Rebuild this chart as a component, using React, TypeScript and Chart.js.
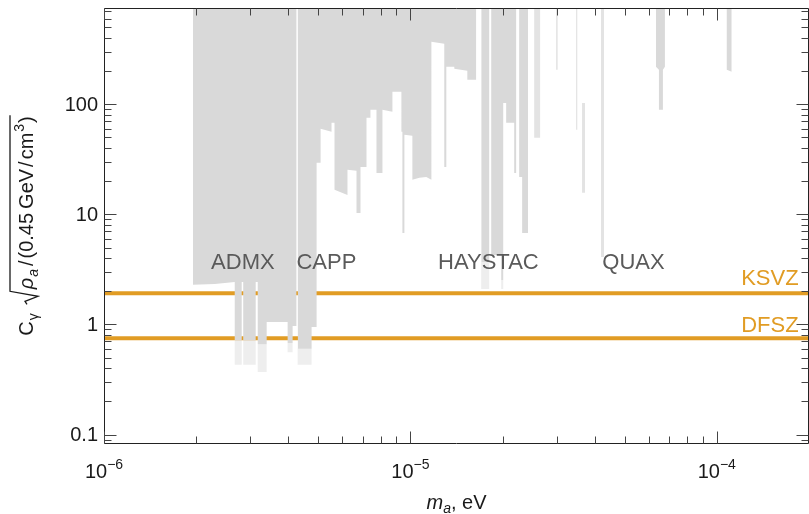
import React, { useEffect, useRef } from "react";
import { Chart, registerables } from "chart.js";

Chart.register(...registerables);

const FONT = '"Liberation Sans", Arimo, Arial, Helvetica, sans-serif';
const GRAY = "#d9d9d9";
const GRAY_LIGHT = "#e3e3e3";
const GRAY_FADE = "rgba(200,200,200,0.3)";
const ORANGE = "#E19C24";
const LABEL = "#5a5a5a";
const INK = "#1a1a1a";

// value above the plotted range, used for regions that reach the top of the plot
const TOP = 1000;

// axis ranges and ticks
const xMin = 1e-6;
const xMax = 2e-4;
const yMin = 0.082;
const yMax = 750;
const xMajorTicks = [1e-6, 1e-5, 1e-4];
const xMajorExponents = ["\u22126", "\u22125", "\u22124"];
const yMajorTicks = [0.1, 1, 10, 100];
const yMajorLabels = ["0.1", "1", "10", "100"];

// benchmark models
const modelNames = ["KSVZ", "DFSZ"];
const modelLevels = [1.92, 0.75];
const modelLabelLevels = [2.29, 0.855];
const modelLabelMass = 1.85e-4;

// experiment labels
const expNames = ["ADMX", "CAPP", "HAYSTAC", "QUAX"];
const expLabelMass = [2.84e-6, 5.32e-6, 1.797e-5, 5.35e-5];
const expLabelLevel = 3.2;

// exclusion regions: lower edge of the excluded area (mass in eV, C_gamma)
const admxMass = [1.95e-6, 2.3e-6, 2.671e-6, 2.671e-6, 2.815e-6, 2.815e-6, 2.847e-6, 2.847e-6, 3.127e-6, 3.127e-6, 3.175e-6, 3.175e-6, 3.396e-6, 3.396e-6, 3.975e-6, 3.975e-6, 4.127e-6, 4.127e-6, 4.253e-6, 4.253e-6];
const admxLimit = [2.29, 2.33, 2.43, 0.72, 0.72, 2.43, 2.43, 0.72, 0.72, 2.43, 2.43, 0.66, 0.66, 1.05, 1.05, 0.68, 0.68, 0.97, 0.97, TOP];

const cappMass = [4.285e-6, 4.285e-6, 4.76e-6, 4.76e-6, 4.942e-6, 4.942e-6, 5.093e-6, 5.093e-6, 5.529e-6, 5.529e-6, 5.654e-6, 5.654e-6, 6.233e-6, 6.233e-6, 6.67e-6, 6.67e-6, 6.873e-6, 6.873e-6, 7.19e-6, 7.19e-6, 7.408e-6, 7.408e-6, 7.75e-6, 7.75e-6, 8.107e-6, 8.107e-6, 8.737e-6, 8.737e-6, 9.348e-6, 9.348e-6, 9.417e-6, 9.417e-6, 9.561e-6, 9.561e-6, 1.015e-5, 1.015e-5, 1.07e-5, 1.127e-5, 1.171e-5, 1.171e-5, 1.29e-5, 1.29e-5, 1.31e-5, 1.31e-5, 1.391e-5, 1.391e-5, 1.534e-5, 1.534e-5, 1.641e-5, 1.641e-5];
const cappLimit = [TOP, 0.6, 0.6, 0.95, 0.95, 29.4, 29.4, 59.9, 56.2, 67.9, 67.9, 16.7, 15.0, 25.4, 24.9, 10.3, 10.3, 27.0, 27.0, 75.4, 75.4, 89.1, 89.1, 23.8, 23.8, 89.1, 85.5, 129.9, 129.9, 56.2, 56.2, 6.79, 6.79, 52.8, 51.7, 20.6, 21.5, 21.9, 20.6, 370, 355, 27.0, 27.0, 219, 219, 210, 202, 167, 167, TOP];

const haystacMass = [1.703e-5, 1.703e-5, 1.808e-5, 1.808e-5, 1.836e-5, 1.836e-5, 1.979e-5, 1.979e-5, 2.009e-5, 2.009e-5, 2.054e-5, 2.054e-5, 2.182e-5, 2.182e-5, 2.214e-5, 2.214e-5, 2.265e-5, 2.265e-5, 2.316e-5, 2.316e-5, 2.423e-5, 2.423e-5];
const haystacLimit = [TOP, 3.7, 3.7, TOP, TOP, 4.28, 4.28, 2.54, 2.54, 103, 103, 67.9, 67.9, 23.8, 23.8, TOP, TOP, 21.9, 21.9, 6.79, 6.79, TOP];

const stripMass = [2.534e-5, 2.534e-5, 2.651e-5, 2.651e-5, 2.99e-5, 2.99e-5, 3.024e-5, 3.024e-5, 3.474e-5, 3.474e-5, 3.512e-5, 3.512e-5];
const stripLimit = [TOP, 49.6, 49.6, TOP, TOP, 206, 206, TOP, TOP, 58.6, 58.6, TOP];

const floatMass = [3.633e-5, 3.715e-5, 3.715e-5, 3.633e-5];
const floatLimit = [103, 103, 15.7, 15.7];

const quaxMass = [4.19e-5, 4.19e-5, 4.285e-5, 4.285e-5];
const quaxLimit = [TOP, 4.11, 4.11, TOP];

const highMass = [6.33e-5, 6.33e-5, 6.475e-5, 6.475e-5, 6.672e-5, 6.672e-5, 6.772e-5, 6.772e-5, 1.078e-4, 1.078e-4, 1.119e-4, 1.119e-4];
const highLimit = [TOP, 219, 206, 89.1, 89.1, 206, 219, TOP, TOP, 206, 198, TOP];

// faint tails below the solid regions
const tailMassLo = [2.671e-6, 2.847e-6, 3.175e-6, 3.975e-6, 4.285e-6, 1.703e-5, 1.979e-5];
const tailMassHi = [2.815e-6, 3.127e-6, 3.396e-6, 4.127e-6, 4.76e-6, 1.808e-5, 2.009e-5];
const tailUpper = [0.72, 0.72, 0.66, 0.68, 0.6, 3.7, 2.54];
const tailLower = [0.43, 0.43, 0.37, 0.56, 0.43, 2.1, 2.1];

function pts(xs: number[], ys: number[]) {
  return xs.map((x, i) => ({ x, y: ys[i] }));
}

function region(xs: number[], ys: number[], color: string, fill: any = "end") {
  return {
    data: pts(xs, ys),
    borderWidth: 0,
    borderColor: "rgba(0,0,0,0)",
    backgroundColor: color,
    fill,
    pointRadius: 0,
    tension: 0,
    order: 1,
  };
}

function drawYTitle(ctx: CanvasRenderingContext2D, baseX: number, centerY: number) {
  const fs = 20;
  const ss = 14;
  const big = `${fs}px ${FONT}`;
  const bigI = `italic ${fs}px ${FONT}`;
  const small = `${ss}px ${FONT}`;
  const smallI = `italic ${ss}px ${FONT}`;
  type Item = { t: string; f: string; dv: number; pre: number };
  const head: Item[] = [
    { t: "C", f: big, dv: 0, pre: 0 },
    { t: "\u03b3", f: small, dv: 5, pre: 1 },
  ];
  const radGap = 9;
  const radW = 14;
  const body: Item[] = [
    { t: "\u03c1", f: bigI, dv: 0, pre: 1 },
    { t: "a", f: smallI, dv: 5, pre: 1 },
    { t: "/", f: big, dv: 0, pre: 3 },
    { t: "(0.45", f: big, dv: 0, pre: 2 },
    { t: "GeV", f: big, dv: 0, pre: 4 },
    { t: "/", f: big, dv: 0, pre: 2 },
    { t: "cm", f: big, dv: 0, pre: 2 },
    { t: "3", f: small, dv: -9, pre: 1 },
    { t: ")", f: big, dv: 0, pre: 1 },
  ];
  const w = (it: Item) => {
    ctx.font = it.f;
    return ctx.measureText(it.t).width + it.pre;
  };
  let total = radGap + radW;
  head.forEach((it) => (total += w(it)));
  body.forEach((it) => (total += w(it)));
  ctx.save();
  ctx.translate(baseX, centerY);
  ctx.rotate(-Math.PI / 2);
  ctx.fillStyle = INK;
  ctx.strokeStyle = INK;
  ctx.textAlign = "left";
  ctx.textBaseline = "alphabetic";
  let u = -total / 2;
  head.forEach((it) => {
    ctx.font = it.f;
    u += it.pre;
    ctx.fillText(it.t, u, it.dv);
    u += ctx.measureText(it.t).width;
  });
  u += radGap;
  const r0 = u;
  u += radW;
  body.forEach((it) => {
    ctx.font = it.f;
    u += it.pre;
    ctx.fillText(it.t, u, it.dv);
    u += ctx.measureText(it.t).width;
  });
  const over = -23;
  ctx.lineWidth = 1.3;
  ctx.beginPath();
  ctx.moveTo(r0, -6);
  ctx.lineTo(r0 + 3, -8);
  ctx.lineTo(r0 + 8, 5);
  ctx.lineTo(r0 + 13, over);
  ctx.lineTo(u + 1, over);
  ctx.stroke();
  ctx.restore();
}

const decor = {
  id: "decor",
  afterDatasetsDraw(chart: any) {
    const { ctx, chartArea: a, scales } = chart;
    const sx = scales.x;
    const sy = scales.y;
    ctx.save();

    // experiment labels
    ctx.font = `22px ${FONT}`;
    ctx.textBaseline = "alphabetic";
    ctx.fillStyle = LABEL;
    ctx.textAlign = "center";
    expNames.forEach((n, i) => {
      ctx.fillText(n, sx.getPixelForValue(expLabelMass[i]), sy.getPixelForValue(expLabelLevel));
    });
    // model labels
    ctx.fillStyle = ORANGE;
    ctx.textAlign = "right";
    modelNames.forEach((n, i) => {
      ctx.fillText(n, sx.getPixelForValue(modelLabelMass), sy.getPixelForValue(modelLabelLevels[i]));
    });

    // frame
    const L = Math.round(a.left) + 0.5;
    const R = Math.round(a.right) - 0.5;
    const T = Math.round(a.top) + 0.5;
    const B = Math.round(a.bottom) - 0.5;
    ctx.strokeStyle = "#222";
    ctx.lineWidth = 1;
    ctx.beginPath();
    ctx.moveTo(L, T);
    ctx.lineTo(R, T);
    ctx.lineTo(R, B);
    ctx.lineTo(L, B);
    ctx.closePath();
    ctx.stroke();

    // ticks
    const major = 12;
    const minor = 7;
    ctx.strokeStyle = "#444";
    ctx.beginPath();
    for (let d = -6; d <= -4; d++) {
      for (let k = 1; k <= 9; k++) {
        const v = k * Math.pow(10, d);
        if (v < xMin * 0.999 || v > xMax * 1.001) continue;
        const px = Math.round(sx.getPixelForValue(v)) + 0.5;
        const len = k === 1 ? major : minor;
        ctx.moveTo(px, B);
        ctx.lineTo(px, B - len);
        ctx.moveTo(px, T);
        ctx.lineTo(px, T + len);
      }
    }
    for (let d = -2; d <= 2; d++) {
      for (let k = 1; k <= 9; k++) {
        const v = k * Math.pow(10, d);
        if (v < yMin || v > yMax) continue;
        const py = Math.round(sy.getPixelForValue(v)) + 0.5;
        const len = k === 1 ? major : minor;
        ctx.moveTo(L, py);
        ctx.lineTo(L + len, py);
        ctx.moveTo(R, py);
        ctx.lineTo(R - len, py);
      }
    }
    ctx.stroke();

    // y tick labels
    ctx.fillStyle = INK;
    ctx.font = `20px ${FONT}`;
    ctx.textAlign = "right";
    ctx.textBaseline = "middle";
    yMajorTicks.forEach((v, i) => {
      ctx.fillText(yMajorLabels[i], a.left - 6, sy.getPixelForValue(v) + 1);
    });

    // x tick labels
    ctx.textAlign = "left";
    ctx.textBaseline = "alphabetic";
    xMajorTicks.forEach((v, i) => {
      ctx.font = `20px ${FONT}`;
      const w1 = ctx.measureText("10").width;
      ctx.font = `14px ${FONT}`;
      const w2 = ctx.measureText(xMajorExponents[i]).width;
      const x0 = sx.getPixelForValue(v) - (w1 + w2) / 2;
      ctx.font = `20px ${FONT}`;
      ctx.fillText("10", x0, a.bottom + 34);
      ctx.font = `14px ${FONT}`;
      ctx.fillText(xMajorExponents[i], x0 + w1, a.bottom + 25);
    });

    // x title
    {
      const cx = (a.left + a.right) / 2;
      const by = a.bottom + 65;
      ctx.font = `italic 20px ${FONT}`;
      const wm = ctx.measureText("m").width;
      ctx.font = `italic 14px ${FONT}`;
      const wa = ctx.measureText("a").width;
      ctx.font = `20px ${FONT}`;
      const we = ctx.measureText(", eV").width;
      let x0 = cx - (wm + wa + we) / 2;
      ctx.font = `italic 20px ${FONT}`;
      ctx.fillText("m", x0, by);
      x0 += wm;
      ctx.font = `italic 14px ${FONT}`;
      ctx.fillText("a", x0, by + 4);
      x0 += wa;
      ctx.font = `20px ${FONT}`;
      ctx.fillText(", eV", x0, by);
    }

    // y title
    drawYTitle(ctx, 33, (a.top + a.bottom) / 2);
    ctx.restore();
  },
};

export default function App() {
  const ref = useRef<HTMLCanvasElement>(null);
  useEffect(() => {
    const canvas = ref.current;
    if (!canvas) return;
    const ctx = canvas.getContext("2d");
    if (!ctx) return;
    const line = (level: number) => ({
      data: [
        { x: xMin, y: level },
        { x: xMax, y: level },
      ],
      borderColor: ORANGE,
      borderWidth: 4,
      pointRadius: 0,
      fill: false,
      order: 10,
    });
    const tails = tailMassLo.map((lo, i) =>
      region(
        [lo, tailMassHi[i], tailMassHi[i], lo],
        [tailUpper[i], tailUpper[i], tailLower[i], tailLower[i]],
        GRAY_FADE,
        "shape"
      )
    );
    const chart = new Chart(ctx, {
      type: "line",
      data: {
        datasets: [
          line(modelLevels[0]),
          line(modelLevels[1]),
          ...tails,
          region(admxMass, admxLimit, GRAY),
          region(cappMass, cappLimit, GRAY),
          region(haystacMass, haystacLimit, GRAY),
          region(stripMass, stripLimit, GRAY_LIGHT),
          region(floatMass, floatLimit, GRAY_LIGHT, "shape"),
          region(quaxMass, quaxLimit, GRAY_LIGHT),
          region(highMass, highLimit, GRAY),
        ] as any,
      },
      options: {
        animation: false,
        responsive: false,
        devicePixelRatio: 1,
        events: [],
        layout: { padding: { left: 104, top: 8, right: 0, bottom: 70 } },
        plugins: { legend: { display: false }, tooltip: { enabled: false } },
        scales: {
          x: { type: "logarithmic", min: xMin, max: xMax, display: false },
          y: { type: "logarithmic", min: yMin, max: yMax, display: false },
        },
      } as any,
      plugins: [decor],
    });
    return () => chart.destroy();
  }, []);
  return (
    <div style={{ position: "fixed", left: 0, top: 0, width: 809, height: 514, background: "#fff" }}>
      <canvas ref={ref} width={809} height={514} style={{ display: "block", width: 809, height: 514 }} />
    </div>
  );
}
